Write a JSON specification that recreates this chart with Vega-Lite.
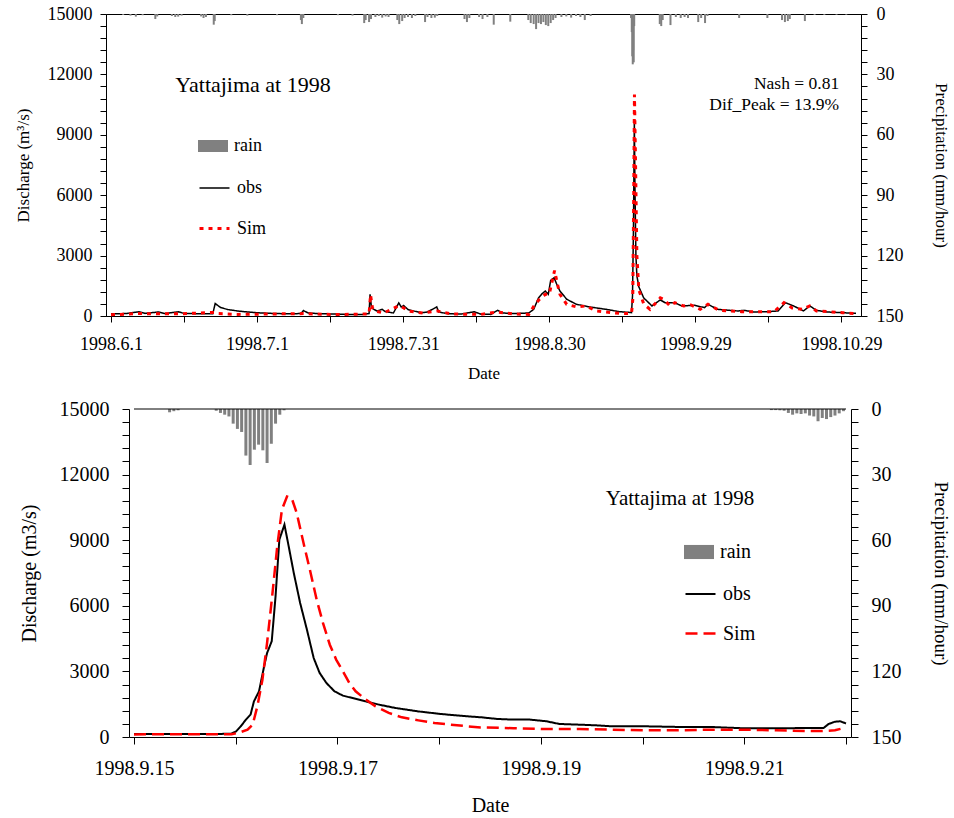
{
  "$schema": "https://vega.github.io/schema/vega-lite/v6.json",
  "background": "white",
  "padding": {"left": 13, "top": 4, "right": 0, "bottom": 4},
  "spacing": 17,
  "datasets": {
    "top_flow": [
      {"t": "1998-06-01T00:00Z", "series": "obs", "q": 110},
      {"t": "1998-06-04T00:00Z", "series": "obs", "q": 120},
      {"t": "1998-06-06T16:48Z", "series": "obs", "q": 210},
      {"t": "1998-06-08T00:00Z", "series": "obs", "q": 130},
      {"t": "1998-06-10T19:12Z", "series": "obs", "q": 200},
      {"t": "1998-06-12T00:00Z", "series": "obs", "q": 120},
      {"t": "1998-06-14T19:12Z", "series": "obs", "q": 210},
      {"t": "1998-06-16T00:00Z", "series": "obs", "q": 130},
      {"t": "1998-06-19T00:00Z", "series": "obs", "q": 110},
      {"t": "1998-06-21T21:36Z", "series": "obs", "q": 110},
      {"t": "1998-06-22T09:36Z", "series": "obs", "q": 620},
      {"t": "1998-06-23T12:00Z", "series": "obs", "q": 420},
      {"t": "1998-06-25T00:00Z", "series": "obs", "q": 320},
      {"t": "1998-06-27T00:00Z", "series": "obs", "q": 250},
      {"t": "1998-06-29T00:00Z", "series": "obs", "q": 200},
      {"t": "1998-07-01T00:00Z", "series": "obs", "q": 160},
      {"t": "1998-07-04T00:00Z", "series": "obs", "q": 130},
      {"t": "1998-07-07T00:00Z", "series": "obs", "q": 110},
      {"t": "1998-07-10T00:00Z", "series": "obs", "q": 120},
      {"t": "1998-07-10T12:00Z", "series": "obs", "q": 270},
      {"t": "1998-07-11T12:00Z", "series": "obs", "q": 150},
      {"t": "1998-07-14T00:00Z", "series": "obs", "q": 110},
      {"t": "1998-07-17T07:12Z", "series": "obs", "q": 100},
      {"t": "1998-07-20T00:00Z", "series": "obs", "q": 70},
      {"t": "1998-07-22T16:48Z", "series": "obs", "q": 80},
      {"t": "1998-07-24T00:00Z", "series": "obs", "q": 120},
      {"t": "1998-07-24T04:48Z", "series": "obs", "q": 1075},
      {"t": "1998-07-24T12:00Z", "series": "obs", "q": 420},
      {"t": "1998-07-25T00:00Z", "series": "obs", "q": 330},
      {"t": "1998-07-25T14:24Z", "series": "obs", "q": 250},
      {"t": "1998-07-26T16:48Z", "series": "obs", "q": 330},
      {"t": "1998-07-27T07:12Z", "series": "obs", "q": 220},
      {"t": "1998-07-29T00:00Z", "series": "obs", "q": 150},
      {"t": "1998-07-30T02:24Z", "series": "obs", "q": 650},
      {"t": "1998-07-30T14:24Z", "series": "obs", "q": 450},
      {"t": "1998-07-31T02:24Z", "series": "obs", "q": 520},
      {"t": "1998-08-01T00:00Z", "series": "obs", "q": 320},
      {"t": "1998-08-02T12:00Z", "series": "obs", "q": 230},
      {"t": "1998-08-03T19:12Z", "series": "obs", "q": 160},
      {"t": "1998-08-05T00:00Z", "series": "obs", "q": 200},
      {"t": "1998-08-06T21:36Z", "series": "obs", "q": 450},
      {"t": "1998-08-07T07:12Z", "series": "obs", "q": 200},
      {"t": "1998-08-09T04:48Z", "series": "obs", "q": 110},
      {"t": "1998-08-12T00:00Z", "series": "obs", "q": 100},
      {"t": "1998-08-14T14:24Z", "series": "obs", "q": 210},
      {"t": "1998-08-16T00:00Z", "series": "obs", "q": 90},
      {"t": "1998-08-18T00:00Z", "series": "obs", "q": 80},
      {"t": "1998-08-19T09:36Z", "series": "obs", "q": 280},
      {"t": "1998-08-20T12:00Z", "series": "obs", "q": 150},
      {"t": "1998-08-22T16:48Z", "series": "obs", "q": 120},
      {"t": "1998-08-25T19:12Z", "series": "obs", "q": 150},
      {"t": "1998-08-26T19:12Z", "series": "obs", "q": 330},
      {"t": "1998-08-27T19:12Z", "series": "obs", "q": 900},
      {"t": "1998-08-28T12:00Z", "series": "obs", "q": 1100},
      {"t": "1998-08-29T04:48Z", "series": "obs", "q": 1240},
      {"t": "1998-08-29T19:12Z", "series": "obs", "q": 1080},
      {"t": "1998-08-30T07:12Z", "series": "obs", "q": 1770},
      {"t": "1998-08-31T00:00Z", "series": "obs", "q": 1900},
      {"t": "1998-08-31T12:00Z", "series": "obs", "q": 1600},
      {"t": "1998-09-01T04:48Z", "series": "obs", "q": 1240},
      {"t": "1998-09-02T14:24Z", "series": "obs", "q": 830},
      {"t": "1998-09-04T14:24Z", "series": "obs", "q": 580},
      {"t": "1998-09-07T07:12Z", "series": "obs", "q": 450},
      {"t": "1998-09-10T16:48Z", "series": "obs", "q": 330},
      {"t": "1998-09-13T09:36Z", "series": "obs", "q": 215},
      {"t": "1998-09-15T21:36Z", "series": "obs", "q": 170},
      {"t": "1998-09-16T02:24Z", "series": "obs", "q": 1000},
      {"t": "1998-09-16T07:12Z", "series": "obs", "q": 4400},
      {"t": "1998-09-16T11:30Z", "series": "obs", "q": 9710},
      {"t": "1998-09-16T14:24Z", "series": "obs", "q": 6500},
      {"t": "1998-09-16T19:12Z", "series": "obs", "q": 3000},
      {"t": "1998-09-17T00:00Z", "series": "obs", "q": 2000},
      {"t": "1998-09-17T09:36Z", "series": "obs", "q": 1450},
      {"t": "1998-09-18T09:36Z", "series": "obs", "q": 900},
      {"t": "1998-09-20T02:24Z", "series": "obs", "q": 500},
      {"t": "1998-09-21T19:12Z", "series": "obs", "q": 800},
      {"t": "1998-09-22T19:12Z", "series": "obs", "q": 660},
      {"t": "1998-09-24T19:12Z", "series": "obs", "q": 660},
      {"t": "1998-09-26T04:48Z", "series": "obs", "q": 500},
      {"t": "1998-09-28T21:36Z", "series": "obs", "q": 530},
      {"t": "1998-09-30T21:36Z", "series": "obs", "q": 415},
      {"t": "1998-10-01T14:24Z", "series": "obs", "q": 580},
      {"t": "1998-10-03T14:24Z", "series": "obs", "q": 330},
      {"t": "1998-10-07T16:48Z", "series": "obs", "q": 250},
      {"t": "1998-10-09T00:00Z", "series": "obs", "q": 280},
      {"t": "1998-10-11T00:00Z", "series": "obs", "q": 200},
      {"t": "1998-10-13T19:12Z", "series": "obs", "q": 215},
      {"t": "1998-10-16T00:00Z", "series": "obs", "q": 250},
      {"t": "1998-10-17T12:00Z", "series": "obs", "q": 660},
      {"t": "1998-10-19T04:48Z", "series": "obs", "q": 500},
      {"t": "1998-10-21T04:48Z", "series": "obs", "q": 250},
      {"t": "1998-10-22T12:00Z", "series": "obs", "q": 500},
      {"t": "1998-10-23T21:36Z", "series": "obs", "q": 280},
      {"t": "1998-10-26T00:00Z", "series": "obs", "q": 200},
      {"t": "1998-10-29T07:12Z", "series": "obs", "q": 165},
      {"t": "1998-11-01T00:00Z", "series": "obs", "q": 130},
      {"t": "1998-06-01T00:00Z", "series": "Sim", "q": 60},
      {"t": "1998-06-06T16:48Z", "series": "Sim", "q": 120},
      {"t": "1998-06-10T19:12Z", "series": "Sim", "q": 110},
      {"t": "1998-06-15T00:00Z", "series": "Sim", "q": 110},
      {"t": "1998-06-22T09:36Z", "series": "Sim", "q": 180},
      {"t": "1998-06-23T00:00Z", "series": "Sim", "q": 120},
      {"t": "1998-06-27T00:00Z", "series": "Sim", "q": 80},
      {"t": "1998-07-10T12:00Z", "series": "Sim", "q": 120},
      {"t": "1998-07-17T00:00Z", "series": "Sim", "q": 70},
      {"t": "1998-07-24T00:00Z", "series": "Sim", "q": 100},
      {"t": "1998-07-24T07:12Z", "series": "Sim", "q": 1050},
      {"t": "1998-07-24T16:48Z", "series": "Sim", "q": 400},
      {"t": "1998-07-25T04:48Z", "series": "Sim", "q": 250},
      {"t": "1998-07-27T00:00Z", "series": "Sim", "q": 150},
      {"t": "1998-07-30T04:48Z", "series": "Sim", "q": 520},
      {"t": "1998-07-31T00:00Z", "series": "Sim", "q": 420},
      {"t": "1998-08-01T00:00Z", "series": "Sim", "q": 250},
      {"t": "1998-08-04T00:00Z", "series": "Sim", "q": 150},
      {"t": "1998-08-07T00:00Z", "series": "Sim", "q": 250},
      {"t": "1998-08-10T00:00Z", "series": "Sim", "q": 100},
      {"t": "1998-08-16T00:00Z", "series": "Sim", "q": 80},
      {"t": "1998-08-19T09:36Z", "series": "Sim", "q": 200},
      {"t": "1998-08-22T16:48Z", "series": "Sim", "q": 100},
      {"t": "1998-08-25T19:12Z", "series": "Sim", "q": 80},
      {"t": "1998-08-27T00:00Z", "series": "Sim", "q": 550},
      {"t": "1998-08-28T00:00Z", "series": "Sim", "q": 830},
      {"t": "1998-08-29T04:48Z", "series": "Sim", "q": 1075},
      {"t": "1998-08-30T00:00Z", "series": "Sim", "q": 1080},
      {"t": "1998-08-31T02:24Z", "series": "Sim", "q": 2260},
      {"t": "1998-08-31T16:48Z", "series": "Sim", "q": 1570},
      {"t": "1998-09-01T04:48Z", "series": "Sim", "q": 1075},
      {"t": "1998-09-02T14:24Z", "series": "Sim", "q": 580},
      {"t": "1998-09-04T14:24Z", "series": "Sim", "q": 450},
      {"t": "1998-09-06T14:24Z", "series": "Sim", "q": 500},
      {"t": "1998-09-08T14:24Z", "series": "Sim", "q": 250},
      {"t": "1998-09-13T09:36Z", "series": "Sim", "q": 130},
      {"t": "1998-09-15T21:36Z", "series": "Sim", "q": 130},
      {"t": "1998-09-16T03:36Z", "series": "Sim", "q": 800},
      {"t": "1998-09-16T08:24Z", "series": "Sim", "q": 6000},
      {"t": "1998-09-16T12:00Z", "series": "Sim", "q": 11000},
      {"t": "1998-09-16T16:48Z", "series": "Sim", "q": 8000},
      {"t": "1998-09-17T00:00Z", "series": "Sim", "q": 3000},
      {"t": "1998-09-17T09:36Z", "series": "Sim", "q": 1300},
      {"t": "1998-09-18T09:36Z", "series": "Sim", "q": 600},
      {"t": "1998-09-19T16:48Z", "series": "Sim", "q": 330},
      {"t": "1998-09-21T19:12Z", "series": "Sim", "q": 900},
      {"t": "1998-09-22T12:00Z", "series": "Sim", "q": 830},
      {"t": "1998-09-23T19:12Z", "series": "Sim", "q": 500},
      {"t": "1998-09-24T19:12Z", "series": "Sim", "q": 660},
      {"t": "1998-09-26T14:24Z", "series": "Sim", "q": 500},
      {"t": "1998-09-28T02:24Z", "series": "Sim", "q": 550},
      {"t": "1998-09-30T00:00Z", "series": "Sim", "q": 330},
      {"t": "1998-10-01T14:24Z", "series": "Sim", "q": 580},
      {"t": "1998-10-03T21:36Z", "series": "Sim", "q": 280},
      {"t": "1998-10-08T09:36Z", "series": "Sim", "q": 215},
      {"t": "1998-10-15T04:48Z", "series": "Sim", "q": 215},
      {"t": "1998-10-17T04:48Z", "series": "Sim", "q": 660},
      {"t": "1998-10-18T21:36Z", "series": "Sim", "q": 400},
      {"t": "1998-10-21T00:00Z", "series": "Sim", "q": 330},
      {"t": "1998-10-22T12:00Z", "series": "Sim", "q": 500},
      {"t": "1998-10-23T21:36Z", "series": "Sim", "q": 250},
      {"t": "1998-10-29T07:12Z", "series": "Sim", "q": 165},
      {"t": "1998-11-01T00:00Z", "series": "Sim", "q": 120}
    ],
    "top_rain": [
      {"t": "1998-06-03T12:00Z", "rain": 0.5},
      {"t": "1998-06-05T00:00Z", "rain": 0.8},
      {"t": "1998-06-06T02:24Z", "rain": 1.3},
      {"t": "1998-06-07T12:00Z", "rain": 0.6},
      {"t": "1998-06-10T02:24Z", "rain": 2.5},
      {"t": "1998-06-10T12:00Z", "rain": 1.2},
      {"t": "1998-06-13T12:00Z", "rain": 1.0},
      {"t": "1998-06-14T04:48Z", "rain": 1.5},
      {"t": "1998-06-14T19:12Z", "rain": 1.3},
      {"t": "1998-06-15T12:00Z", "rain": 0.8},
      {"t": "1998-06-19T12:00Z", "rain": 1.2},
      {"t": "1998-06-20T00:00Z", "rain": 2.0},
      {"t": "1998-06-20T12:00Z", "rain": 1.5},
      {"t": "1998-06-22T02:24Z", "rain": 5.3},
      {"t": "1998-06-22T07:12Z", "rain": 3.5},
      {"t": "1998-06-25T16:48Z", "rain": 0.6},
      {"t": "1998-06-29T00:00Z", "rain": 0.8},
      {"t": "1998-07-05T02:24Z", "rain": 0.6},
      {"t": "1998-07-10T00:00Z", "rain": 3.0},
      {"t": "1998-07-10T04:48Z", "rain": 5.0},
      {"t": "1998-07-10T12:00Z", "rain": 2.0},
      {"t": "1998-07-17T14:24Z", "rain": 0.6},
      {"t": "1998-07-20T14:24Z", "rain": 0.8},
      {"t": "1998-07-23T00:00Z", "rain": 4.5},
      {"t": "1998-07-23T07:12Z", "rain": 3.0},
      {"t": "1998-07-24T00:00Z", "rain": 4.0},
      {"t": "1998-07-24T09:36Z", "rain": 2.5},
      {"t": "1998-07-25T07:12Z", "rain": 1.5},
      {"t": "1998-07-26T00:00Z", "rain": 1.0},
      {"t": "1998-07-26T16:48Z", "rain": 1.8},
      {"t": "1998-07-27T09:36Z", "rain": 1.2},
      {"t": "1998-07-28T00:00Z", "rain": 1.5},
      {"t": "1998-07-29T19:12Z", "rain": 3.0},
      {"t": "1998-07-30T04:48Z", "rain": 5.0},
      {"t": "1998-07-30T19:12Z", "rain": 3.5},
      {"t": "1998-07-31T07:12Z", "rain": 2.0},
      {"t": "1998-08-01T00:00Z", "rain": 1.5},
      {"t": "1998-08-01T19:12Z", "rain": 2.0},
      {"t": "1998-08-02T12:00Z", "rain": 1.0},
      {"t": "1998-08-04T12:00Z", "rain": 4.0},
      {"t": "1998-08-05T00:00Z", "rain": 1.5},
      {"t": "1998-08-05T19:12Z", "rain": 2.0},
      {"t": "1998-08-06T12:00Z", "rain": 1.8},
      {"t": "1998-08-07T00:00Z", "rain": 1.0},
      {"t": "1998-08-12T14:24Z", "rain": 2.5},
      {"t": "1998-08-13T02:24Z", "rain": 4.0},
      {"t": "1998-08-13T14:24Z", "rain": 2.0},
      {"t": "1998-08-15T14:24Z", "rain": 1.5},
      {"t": "1998-08-16T07:12Z", "rain": 2.5},
      {"t": "1998-08-17T07:12Z", "rain": 1.5},
      {"t": "1998-08-18T14:24Z", "rain": 5.3},
      {"t": "1998-08-22T00:00Z", "rain": 3.8},
      {"t": "1998-08-25T16:48Z", "rain": 3.0},
      {"t": "1998-08-26T04:48Z", "rain": 4.5},
      {"t": "1998-08-26T19:12Z", "rain": 5.0},
      {"t": "1998-08-27T07:12Z", "rain": 7.5},
      {"t": "1998-08-27T19:12Z", "rain": 4.5},
      {"t": "1998-08-28T07:12Z", "rain": 5.0},
      {"t": "1998-08-28T19:12Z", "rain": 4.0},
      {"t": "1998-08-29T07:12Z", "rain": 5.5},
      {"t": "1998-08-29T19:12Z", "rain": 6.0},
      {"t": "1998-08-30T07:12Z", "rain": 4.5},
      {"t": "1998-08-30T19:12Z", "rain": 3.0},
      {"t": "1998-08-31T07:12Z", "rain": 2.0},
      {"t": "1998-09-01T12:00Z", "rain": 1.5},
      {"t": "1998-09-02T12:00Z", "rain": 1.2},
      {"t": "1998-09-03T12:00Z", "rain": 1.8},
      {"t": "1998-09-04T12:00Z", "rain": 1.0},
      {"t": "1998-09-05T09:36Z", "rain": 1.5},
      {"t": "1998-09-06T07:12Z", "rain": 3.0},
      {"t": "1998-09-07T12:00Z", "rain": 1.0},
      {"t": "1998-09-15T19:12Z", "rain": 2},
      {"t": "1998-09-15T22:48Z", "rain": 9},
      {"t": "1998-09-16T01:12Z", "rain": 21},
      {"t": "1998-09-16T03:36Z", "rain": 25},
      {"t": "1998-09-16T06:00Z", "rain": 18},
      {"t": "1998-09-16T08:24Z", "rain": 24},
      {"t": "1998-09-16T10:48Z", "rain": 6},
      {"t": "1998-09-21T16:48Z", "rain": 5.0},
      {"t": "1998-09-22T00:00Z", "rain": 6.0},
      {"t": "1998-09-22T07:12Z", "rain": 3.0},
      {"t": "1998-09-23T21:36Z", "rain": 5.5},
      {"t": "1998-09-25T00:00Z", "rain": 1.5},
      {"t": "1998-09-26T00:00Z", "rain": 2.0},
      {"t": "1998-09-26T19:12Z", "rain": 1.5},
      {"t": "1998-09-27T12:00Z", "rain": 2.0},
      {"t": "1998-09-29T14:24Z", "rain": 4.0},
      {"t": "1998-09-30T04:48Z", "rain": 2.0},
      {"t": "1998-10-01T00:00Z", "rain": 4.5},
      {"t": "1998-10-01T12:00Z", "rain": 1.0},
      {"t": "1998-10-08T00:00Z", "rain": 2.0},
      {"t": "1998-10-13T19:12Z", "rain": 2.0},
      {"t": "1998-10-16T19:12Z", "rain": 3.0},
      {"t": "1998-10-17T09:36Z", "rain": 4.0},
      {"t": "1998-10-18T00:00Z", "rain": 3.5},
      {"t": "1998-10-18T09:36Z", "rain": 2.5},
      {"t": "1998-10-21T12:00Z", "rain": 3.5},
      {"t": "1998-10-23T12:00Z", "rain": 0.5},
      {"t": "1998-10-25T12:00Z", "rain": 0.5},
      {"t": "1998-10-28T00:00Z", "rain": 0.4},
      {"t": "1998-10-30T00:00Z", "rain": 0.4}
    ],
    "bot_flow": [
      {"t": "1998-09-15T00:00Z", "series": "obs", "q": 140},
      {"t": "1998-09-15T12:00Z", "series": "obs", "q": 140},
      {"t": "1998-09-15T20:00Z", "series": "obs", "q": 140},
      {"t": "1998-09-15T22:54Z", "series": "obs", "q": 150},
      {"t": "1998-09-16T00:06Z", "series": "obs", "q": 260},
      {"t": "1998-09-16T01:12Z", "series": "obs", "q": 490},
      {"t": "1998-09-16T02:24Z", "series": "obs", "q": 795},
      {"t": "1998-09-16T03:30Z", "series": "obs", "q": 1024},
      {"t": "1998-09-16T04:18Z", "series": "obs", "q": 1630},
      {"t": "1998-09-16T05:30Z", "series": "obs", "q": 2090},
      {"t": "1998-09-16T06:42Z", "series": "obs", "q": 3230},
      {"t": "1998-09-16T07:24Z", "series": "obs", "q": 3840},
      {"t": "1998-09-16T08:30Z", "series": "obs", "q": 4380},
      {"t": "1998-09-16T09:24Z", "series": "obs", "q": 6430},
      {"t": "1998-09-16T10:18Z", "series": "obs", "q": 9030},
      {"t": "1998-09-16T11:30Z", "series": "obs", "q": 9710},
      {"t": "1998-09-16T12:30Z", "series": "obs", "q": 8720},
      {"t": "1998-09-16T13:42Z", "series": "obs", "q": 7500},
      {"t": "1998-09-16T15:12Z", "series": "obs", "q": 6130},
      {"t": "1998-09-16T16:48Z", "series": "obs", "q": 4910},
      {"t": "1998-09-16T18:24Z", "series": "obs", "q": 3610},
      {"t": "1998-09-16T19:48Z", "series": "obs", "q": 2930},
      {"t": "1998-09-16T21:24Z", "series": "obs", "q": 2470},
      {"t": "1998-09-16T23:18Z", "series": "obs", "q": 2090},
      {"t": "1998-09-17T01:18Z", "series": "obs", "q": 1890},
      {"t": "1998-09-17T03:36Z", "series": "obs", "q": 1780},
      {"t": "1998-09-17T06:42Z", "series": "obs", "q": 1630},
      {"t": "1998-09-17T09:48Z", "series": "obs", "q": 1480},
      {"t": "1998-09-17T13:36Z", "series": "obs", "q": 1330},
      {"t": "1998-09-17T19:06Z", "series": "obs", "q": 1170},
      {"t": "1998-09-18T00:30Z", "series": "obs", "q": 1050},
      {"t": "1998-09-18T06:42Z", "series": "obs", "q": 945},
      {"t": "1998-09-18T10:00Z", "series": "obs", "q": 900},
      {"t": "1998-09-18T13:42Z", "series": "obs", "q": 825},
      {"t": "1998-09-18T17:30Z", "series": "obs", "q": 795},
      {"t": "1998-09-18T21:24Z", "series": "obs", "q": 795},
      {"t": "1998-09-19T01:18Z", "series": "obs", "q": 720},
      {"t": "1998-09-19T04:24Z", "series": "obs", "q": 595},
      {"t": "1998-09-19T09:00Z", "series": "obs", "q": 565},
      {"t": "1998-09-19T12:54Z", "series": "obs", "q": 535},
      {"t": "1998-09-19T16:48Z", "series": "obs", "q": 490},
      {"t": "1998-09-20T00:30Z", "series": "obs", "q": 490},
      {"t": "1998-09-20T08:18Z", "series": "obs", "q": 460},
      {"t": "1998-09-20T16:00Z", "series": "obs", "q": 460},
      {"t": "1998-09-20T23:42Z", "series": "obs", "q": 400},
      {"t": "1998-09-21T07:30Z", "series": "obs", "q": 400},
      {"t": "1998-09-21T15:12Z", "series": "obs", "q": 410},
      {"t": "1998-09-21T18:42Z", "series": "obs", "q": 410},
      {"t": "1998-09-21T19:54Z", "series": "obs", "q": 595},
      {"t": "1998-09-21T21:24Z", "series": "obs", "q": 700},
      {"t": "1998-09-21T22:36Z", "series": "obs", "q": 720},
      {"t": "1998-09-22T00:00Z", "series": "obs", "q": 620},
      {"t": "1998-09-15T00:00Z", "series": "Sim", "q": 120},
      {"t": "1998-09-15T23:00Z", "series": "Sim", "q": 125},
      {"t": "1998-09-16T00:30Z", "series": "Sim", "q": 183},
      {"t": "1998-09-16T02:48Z", "series": "Sim", "q": 335},
      {"t": "1998-09-16T04:00Z", "series": "Sim", "q": 565},
      {"t": "1998-09-16T05:06Z", "series": "Sim", "q": 1400},
      {"t": "1998-09-16T06:18Z", "series": "Sim", "q": 2620},
      {"t": "1998-09-16T07:24Z", "series": "Sim", "q": 4300},
      {"t": "1998-09-16T08:36Z", "series": "Sim", "q": 6430},
      {"t": "1998-09-16T09:48Z", "series": "Sim", "q": 8720},
      {"t": "1998-09-16T10:54Z", "series": "Sim", "q": 10400},
      {"t": "1998-09-16T12:06Z", "series": "Sim", "q": 11000},
      {"t": "1998-09-16T13:12Z", "series": "Sim", "q": 10930},
      {"t": "1998-09-16T14:24Z", "series": "Sim", "q": 10240},
      {"t": "1998-09-16T16:00Z", "series": "Sim", "q": 8870},
      {"t": "1998-09-16T17:30Z", "series": "Sim", "q": 7650},
      {"t": "1998-09-16T19:06Z", "series": "Sim", "q": 6280},
      {"t": "1998-09-16T20:36Z", "series": "Sim", "q": 5210},
      {"t": "1998-09-16T22:12Z", "series": "Sim", "q": 4220},
      {"t": "1998-09-16T23:42Z", "series": "Sim", "q": 3540},
      {"t": "1998-09-17T01:18Z", "series": "Sim", "q": 3000},
      {"t": "1998-09-17T02:48Z", "series": "Sim", "q": 2470},
      {"t": "1998-09-17T04:18Z", "series": "Sim", "q": 2090},
      {"t": "1998-09-17T06:42Z", "series": "Sim", "q": 1710},
      {"t": "1998-09-17T09:00Z", "series": "Sim", "q": 1400},
      {"t": "1998-09-17T12:06Z", "series": "Sim", "q": 1100},
      {"t": "1998-09-17T15:12Z", "series": "Sim", "q": 900},
      {"t": "1998-09-17T19:06Z", "series": "Sim", "q": 760},
      {"t": "1998-09-17T22:54Z", "series": "Sim", "q": 640},
      {"t": "1998-09-18T02:48Z", "series": "Sim", "q": 565},
      {"t": "1998-09-18T06:42Z", "series": "Sim", "q": 490},
      {"t": "1998-09-18T09:48Z", "series": "Sim", "q": 440},
      {"t": "1998-09-18T17:30Z", "series": "Sim", "q": 400},
      {"t": "1998-09-19T01:18Z", "series": "Sim", "q": 365},
      {"t": "1998-09-19T09:00Z", "series": "Sim", "q": 365},
      {"t": "1998-09-19T16:48Z", "series": "Sim", "q": 335},
      {"t": "1998-09-20T00:30Z", "series": "Sim", "q": 305},
      {"t": "1998-09-20T08:18Z", "series": "Sim", "q": 305},
      {"t": "1998-09-20T16:00Z", "series": "Sim", "q": 335},
      {"t": "1998-09-20T23:42Z", "series": "Sim", "q": 335},
      {"t": "1998-09-21T07:30Z", "series": "Sim", "q": 305},
      {"t": "1998-09-21T15:12Z", "series": "Sim", "q": 275},
      {"t": "1998-09-21T18:18Z", "series": "Sim", "q": 275},
      {"t": "1998-09-21T21:24Z", "series": "Sim", "q": 305},
      {"t": "1998-09-22T00:00Z", "series": "Sim", "q": 440}
    ],
    "bot_rain": [
      {"t": "1998-09-15T08:24Z", "rain": 1.5},
      {"t": "1998-09-15T09:24Z", "rain": 1.0},
      {"t": "1998-09-15T10:24Z", "rain": 0.6},
      {"t": "1998-09-15T19:24Z", "rain": 0.8},
      {"t": "1998-09-15T20:24Z", "rain": 1.8},
      {"t": "1998-09-15T21:24Z", "rain": 2.6},
      {"t": "1998-09-15T22:24Z", "rain": 3.4},
      {"t": "1998-09-15T23:24Z", "rain": 6.7},
      {"t": "1998-09-16T00:24Z", "rain": 9.1},
      {"t": "1998-09-16T01:24Z", "rain": 10.5},
      {"t": "1998-09-16T02:24Z", "rain": 21.3},
      {"t": "1998-09-16T03:24Z", "rain": 25.6},
      {"t": "1998-09-16T04:24Z", "rain": 18.6},
      {"t": "1998-09-16T05:24Z", "rain": 16.3},
      {"t": "1998-09-16T06:24Z", "rain": 18.9},
      {"t": "1998-09-16T07:24Z", "rain": 24.7},
      {"t": "1998-09-16T08:24Z", "rain": 15.9},
      {"t": "1998-09-16T09:24Z", "rain": 6.7},
      {"t": "1998-09-16T10:24Z", "rain": 2.6},
      {"t": "1998-09-16T11:24Z", "rain": 0.6},
      {"t": "1998-09-21T06:24Z", "rain": 0.5},
      {"t": "1998-09-21T07:24Z", "rain": 0.5},
      {"t": "1998-09-21T08:24Z", "rain": 0.6},
      {"t": "1998-09-21T09:24Z", "rain": 0.8},
      {"t": "1998-09-21T10:24Z", "rain": 1.8},
      {"t": "1998-09-21T11:24Z", "rain": 2.6},
      {"t": "1998-09-21T12:24Z", "rain": 2.0},
      {"t": "1998-09-21T13:24Z", "rain": 2.3},
      {"t": "1998-09-21T14:24Z", "rain": 2.0},
      {"t": "1998-09-21T15:24Z", "rain": 3.0},
      {"t": "1998-09-21T16:24Z", "rain": 3.4},
      {"t": "1998-09-21T17:24Z", "rain": 5.6},
      {"t": "1998-09-21T18:24Z", "rain": 4.1},
      {"t": "1998-09-21T19:24Z", "rain": 4.6},
      {"t": "1998-09-21T20:24Z", "rain": 3.7},
      {"t": "1998-09-21T21:24Z", "rain": 3.0},
      {"t": "1998-09-21T22:24Z", "rain": 2.0},
      {"t": "1998-09-21T23:24Z", "rain": 1.0}
    ]
  },
  "vconcat": [
    {
      "width": 755,
      "height": 302,
      "layer": [
        {
          "data": {"name": "top_rain"},
          "mark": {"type": "bar", "size": 2},
          "encoding": {
            "x": {"field": "t", "type": "temporal", "scale": {"type": "utc", "domain": [{"year": 1998, "month": 6, "date": 1, "utc": true}, {"year": 1998, "month": 11, "date": 1, "utc": true}]}},
            "y": {"field": "rain", "type": "quantitative", "scale": {"domain": [0, 150], "reverse": true, "nice": false},
              "axis": {"orient": "right", "title": "Precipitation (mm/hour)", "values": [0,6,12,18,24,30,36,42,48,54,60,66,72,78,84,90,96,102,108,114,120,126,132,138,144,150],
                "labelExpr": "datum.value % 30 == 0 ? '' + datum.value : ''", "labelFontSize": 18, "titleFontSize": 17, "tickSize": 6, "labelPadding": 9, "titlePadding": 28, "labelOverlap": false, "labelFlush": false}},
            "fill": {"datum": "rain", "scale": {"domain": ["rain"], "range": ["#808080"]},
              "legend": {"orient": "none", "legendX": 92, "legendY": 117, "title": null, "symbolType": "M-1,-0.4H1V0.4H-1Z", "symbolSize": 900, "symbolStrokeWidth": 0, "labelFontSize": 18, "labelOffset": 6, "padding": 0}}
          }
        },
        {
          "layer": [
            {
              "data": {"name": "top_flow"},
              "transform": [{"filter": "datum.series == 'obs'"}],
              "mark": {"type": "line"},
              "encoding": {
                "x": {"field": "t", "type": "temporal", "scale": {"type": "utc", "domain": [{"year": 1998, "month": 6, "date": 1, "utc": true}, {"year": 1998, "month": 11, "date": 1, "utc": true}]},
                  "axis": {"title": "Date", "values": [
                    {"year": 1998, "month": 6, "date": 1, "utc": true},
                    {"year": 1998, "month": 6, "date": 16, "utc": true},
                    {"year": 1998, "month": 7, "date": 1, "utc": true},
                    {"year": 1998, "month": 7, "date": 16, "utc": true},
                    {"year": 1998, "month": 7, "date": 31, "utc": true},
                    {"year": 1998, "month": 8, "date": 15, "utc": true},
                    {"year": 1998, "month": 8, "date": 30, "utc": true},
                    {"year": 1998, "month": 9, "date": 14, "utc": true},
                    {"year": 1998, "month": 9, "date": 29, "utc": true},
                    {"year": 1998, "month": 10, "date": 14, "utc": true},
                    {"year": 1998, "month": 10, "date": 29, "utc": true}],
                    "labelExpr": "round((datum.value - utc(1998,5,1)) / 86400000) % 30 == 0 ? utcFormat(datum.value, '%Y.%-m.%-d') : ''",
                    "labelFontSize": 18, "titleFontSize": 17, "tickSize": 6, "labelPadding": 13, "titlePadding": 12, "labelFlush": false, "labelOverlap": false}},
                "y": {"field": "q", "type": "quantitative", "scale": {"domain": [0, 15000], "nice": false},
                  "axis": {"title": "Discharge (m³/s)", "values": [0,600,1200,1800,2400,3000,3600,4200,4800,5400,6000,6600,7200,7800,8400,9000,9600,10200,10800,11400,12000,12600,13200,13800,14400,15000],
                    "labelExpr": "datum.value % 3000 == 0 ? '' + datum.value : ''", "labelFontSize": 18, "titleFontSize": 17, "tickSize": 6, "labelPadding": 8, "titlePadding": 15, "labelOverlap": false, "labelFlush": false}},
                "stroke": {"field": "series", "type": "nominal", "scale": {"domain": ["obs", "Sim"], "range": ["black", "red"]},
                  "legend": {"orient": "none", "legendX": 92, "legendY": 158, "title": null, "symbolType": "stroke", "symbolSize": 900, "labelFontSize": 18, "labelOffset": 6, "rowPadding": 15, "padding": 0}},
                "strokeDash": {"field": "series", "type": "nominal", "scale": {"domain": ["obs", "Sim"], "range": [[1, 0], [4, 5]]}},
                "strokeWidth": {"field": "series", "type": "nominal", "scale": {"type": "ordinal", "domain": ["obs", "Sim"], "range": [1.5, 3]}}
              }
            },
            {
              "data": {"name": "top_flow"},
              "transform": [{"filter": "datum.series == 'Sim'"}],
              "mark": {"type": "line", "color": "red", "strokeDash": [4, 5], "strokeWidth": 3},
              "encoding": {
                "x": {"field": "t", "type": "temporal", "scale": {"type": "utc"}},
                "y": {"field": "q", "type": "quantitative",
                  "axis": {"title": "Discharge (m³/s)", "values": [0,600,1200,1800,2400,3000,3600,4200,4800,5400,6000,6600,7200,7800,8400,9000,9600,10200,10800,11400,12000,12600,13200,13800,14400,15000],
                    "labelExpr": "datum.value % 3000 == 0 ? '' + datum.value : ''", "labelFontSize": 18, "titleFontSize": 17, "tickSize": 6, "labelPadding": 8, "titlePadding": 15, "labelOverlap": false, "labelFlush": false}}
              }
            },
            {
              "data": {"values": [{}]},
              "mark": {"type": "text", "font": "Liberation Serif", "fontSize": 22, "align": "center", "baseline": "alphabetic", "color": "black"},
              "encoding": {
                "x": {"datum": {"year": 1998, "month": 6, "date": 30, "hours": 4, "utc": true}, "type": "temporal", "scale": {"type": "utc"}},
                "y": {"datum": 11130, "type": "quantitative",
                  "axis": {"title": "Discharge (m³/s)", "values": [0,600,1200,1800,2400,3000,3600,4200,4800,5400,6000,6600,7200,7800,8400,9000,9600,10200,10800,11400,12000,12600,13200,13800,14400,15000],
                    "labelExpr": "datum.value % 3000 == 0 ? '' + datum.value : ''", "labelFontSize": 18, "titleFontSize": 17, "tickSize": 6, "labelPadding": 8, "titlePadding": 15, "labelOverlap": false, "labelFlush": false}},
                "text": {"value": "Yattajima at 1998"}
              }
            },
            {
              "data": {"values": [{}]},
              "mark": {"type": "text", "font": "Liberation Serif", "fontSize": 17.5, "align": "right", "baseline": "alphabetic", "color": "black"},
              "encoding": {
                "x": {"datum": {"year": 1998, "month": 10, "date": 28, "hours": 13, "utc": true}, "type": "temporal", "scale": {"type": "utc"}},
                "y": {"datum": 11298, "type": "quantitative",
                  "axis": {"title": "Discharge (m³/s)", "values": [0,600,1200,1800,2400,3000,3600,4200,4800,5400,6000,6600,7200,7800,8400,9000,9600,10200,10800,11400,12000,12600,13200,13800,14400,15000],
                    "labelExpr": "datum.value % 3000 == 0 ? '' + datum.value : ''", "labelFontSize": 18, "titleFontSize": 17, "tickSize": 6, "labelPadding": 8, "titlePadding": 15, "labelOverlap": false, "labelFlush": false}},
                "text": {"value": "Nash = 0.81"}
              }
            },
            {
              "data": {"values": [{}]},
              "mark": {"type": "text", "font": "Liberation Serif", "fontSize": 17.5, "align": "right", "baseline": "alphabetic", "color": "black"},
              "encoding": {
                "x": {"datum": {"year": 1998, "month": 10, "date": 28, "hours": 13, "utc": true}, "type": "temporal", "scale": {"type": "utc"}},
                "y": {"datum": 10222, "type": "quantitative",
                  "axis": {"title": "Discharge (m³/s)", "values": [0,600,1200,1800,2400,3000,3600,4200,4800,5400,6000,6600,7200,7800,8400,9000,9600,10200,10800,11400,12000,12600,13200,13800,14400,15000],
                    "labelExpr": "datum.value % 3000 == 0 ? '' + datum.value : ''", "labelFontSize": 18, "titleFontSize": 17, "tickSize": 6, "labelPadding": 8, "titlePadding": 15, "labelOverlap": false, "labelFlush": false}},
                "text": {"value": "Dif_Peak = 13.9%"}
              }
            }
          ]
        }
      ],
      "resolve": {"scale": {"y": "independent"}}
    },
    {
      "width": 745,
      "height": 328,
      "view": {"stroke": null},
      "layer": [
        {
          "data": {"name": "bot_rain"},
          "mark": {"type": "bar", "size": 3},
          "encoding": {
            "x": {"field": "t", "type": "temporal", "scale": {"type": "utc", "domain": [{"year": 1998, "month": 9, "date": 15, "utc": true}, {"year": 1998, "month": 9, "date": 22, "utc": true}], "range": [23, 745]}},
            "y": {"field": "rain", "type": "quantitative", "scale": {"domain": [0, 150], "reverse": true, "nice": false},
              "axis": {"orient": "right", "title": "Precipitation (mm/hour)", "values": [0,6,12,18,24,30,36,42,48,54,60,66,72,78,84,90,96,102,108,114,120,126,132,138,144,150],
                "labelExpr": "datum.value % 30 == 0 ? '' + datum.value : ''", "labelFontSize": 20, "titleFontSize": 19, "tickSize": 7, "labelPadding": 13, "titlePadding": 29, "labelOverlap": false, "labelFlush": false}},
            "fill": {"datum": "rain", "scale": {"domain": ["rain"], "range": ["#808080"]},
              "legend": {"orient": "none", "legendX": 578, "legendY": 128, "title": null, "symbolType": "M-1,-0.47H1V0.47H-1Z", "symbolSize": 900, "symbolStrokeWidth": 0, "labelFontSize": 20, "labelOffset": 6, "padding": 0}}
          }
        },
        {
          "layer": [
            {
              "data": {"name": "bot_flow"},
              "transform": [{"filter": "datum.series == 'obs'"}],
              "mark": {"type": "line"},
              "encoding": {
                "x": {"field": "t", "type": "temporal", "scale": {"type": "utc", "domain": [{"year": 1998, "month": 9, "date": 15, "utc": true}, {"year": 1998, "month": 9, "date": 22, "utc": true}], "range": [23, 745]},
                  "axis": {"title": "Date", "values": [
                    {"year": 1998, "month": 9, "date": 15, "utc": true},
                    {"year": 1998, "month": 9, "date": 16, "utc": true},
                    {"year": 1998, "month": 9, "date": 17, "utc": true},
                    {"year": 1998, "month": 9, "date": 18, "utc": true},
                    {"year": 1998, "month": 9, "date": 19, "utc": true},
                    {"year": 1998, "month": 9, "date": 20, "utc": true},
                    {"year": 1998, "month": 9, "date": 21, "utc": true},
                    {"year": 1998, "month": 9, "date": 22, "utc": true}],
                    "labelExpr": "round((datum.value - utc(1998,8,15)) / 86400000) % 2 == 0 && round((datum.value - utc(1998,8,15)) / 86400000) < 7 ? utcFormat(datum.value, '%Y.%-m.%-d') : ''",
                    "labelFontSize": 20, "titleFontSize": 20, "tickSize": 7, "labelPadding": 14, "titlePadding": 17, "labelFlush": false, "labelOverlap": false}},
                "y": {"field": "q", "type": "quantitative", "scale": {"domain": [0, 15000], "nice": false},
                  "axis": {"title": "Discharge (m3/s)", "offset": -23, "values": [0,600,1200,1800,2400,3000,3600,4200,4800,5400,6000,6600,7200,7800,8400,9000,9600,10200,10800,11400,12000,12600,13200,13800,14400,15000],
                    "labelExpr": "datum.value % 3000 == 0 ? '' + datum.value : ''", "labelFontSize": 20, "titleFontSize": 20, "tickSize": 7, "labelPadding": 13, "titlePadding": 20, "labelOverlap": false, "labelFlush": false}},
                "stroke": {"field": "series", "type": "nominal", "scale": {"domain": ["obs", "Sim"], "range": ["black", "red"]},
                  "legend": {"orient": "none", "legendX": 578, "legendY": 169, "title": null, "symbolType": "stroke", "symbolSize": 900, "labelFontSize": 20, "labelOffset": 6, "rowPadding": 13, "padding": 0}},
                "strokeDash": {"field": "series", "type": "nominal", "scale": {"domain": ["obs", "Sim"], "range": [[1, 0], [12, 6]]}},
                "strokeWidth": {"field": "series", "type": "nominal", "scale": {"type": "ordinal", "domain": ["obs", "Sim"], "range": [2, 2.5]}}
              }
            },
            {
              "data": {"name": "bot_flow"},
              "transform": [{"filter": "datum.series == 'Sim'"}],
              "mark": {"type": "line", "color": "red", "strokeDash": [12, 6], "strokeWidth": 2.5},
              "encoding": {
                "x": {"field": "t", "type": "temporal", "scale": {"type": "utc"}},
                "y": {"field": "q", "type": "quantitative",
                  "axis": {"title": "Discharge (m3/s)", "offset": -23, "values": [0,600,1200,1800,2400,3000,3600,4200,4800,5400,6000,6600,7200,7800,8400,9000,9600,10200,10800,11400,12000,12600,13200,13800,14400,15000],
                    "labelExpr": "datum.value % 3000 == 0 ? '' + datum.value : ''", "labelFontSize": 20, "titleFontSize": 20, "tickSize": 7, "labelPadding": 13, "titlePadding": 20, "labelOverlap": false, "labelFlush": false}}
              }
            },
            {
              "data": {"values": [{}]},
              "mark": {"type": "rule", "color": "black", "strokeWidth": 1},
              "encoding": {
                "x": {"datum": {"year": 1998, "month": 9, "date": 15, "utc": true}, "type": "temporal", "scale": {"type": "utc"}},
                "x2": {"datum": {"year": 1998, "month": 9, "date": 22, "utc": true}},
                "y": {"datum": 15000, "type": "quantitative",
                  "axis": {"title": "Discharge (m3/s)", "offset": -23, "values": [0,600,1200,1800,2400,3000,3600,4200,4800,5400,6000,6600,7200,7800,8400,9000,9600,10200,10800,11400,12000,12600,13200,13800,14400,15000],
                    "labelExpr": "datum.value % 3000 == 0 ? '' + datum.value : ''", "labelFontSize": 20, "titleFontSize": 20, "tickSize": 7, "labelPadding": 13, "titlePadding": 20, "labelOverlap": false, "labelFlush": false}}
              }
            },
            {
              "data": {"values": [{}]},
              "mark": {"type": "text", "font": "Liberation Serif", "fontSize": 21, "align": "center", "baseline": "alphabetic", "color": "black"},
              "encoding": {
                "x": {"datum": {"year": 1998, "month": 9, "date": 20, "hours": 8, "minutes": 50, "utc": true}, "type": "temporal", "scale": {"type": "utc"}},
                "y": {"datum": 10628, "type": "quantitative",
                  "axis": {"title": "Discharge (m3/s)", "offset": -23, "values": [0,600,1200,1800,2400,3000,3600,4200,4800,5400,6000,6600,7200,7800,8400,9000,9600,10200,10800,11400,12000,12600,13200,13800,14400,15000],
                    "labelExpr": "datum.value % 3000 == 0 ? '' + datum.value : ''", "labelFontSize": 20, "titleFontSize": 20, "tickSize": 7, "labelPadding": 13, "titlePadding": 20, "labelOverlap": false, "labelFlush": false}},
                "text": {"value": "Yattajima at 1998"}
              }
            }
          ]
        }
      ],
      "resolve": {"scale": {"y": "independent"}}
    }
  ],
  "resolve": {"scale": {"fill": "independent", "stroke": "independent", "strokeDash": "independent", "strokeWidth": "independent"}},
  "config": {
    "font": "Liberation Serif",
    "view": {"stroke": "black", "strokeWidth": 1},
    "axis": {"grid": false, "labelOverlap": false, "labelFont": "Liberation Serif", "titleFont": "Liberation Serif", "titleFontWeight": "normal", "labelColor": "black", "titleColor": "black", "domainColor": "black", "tickColor": "black", "domainWidth": 1, "tickWidth": 1},
    "legend": {"labelFont": "Liberation Serif", "labelColor": "black"},
    "text": {"font": "Liberation Serif"}
  }
}
